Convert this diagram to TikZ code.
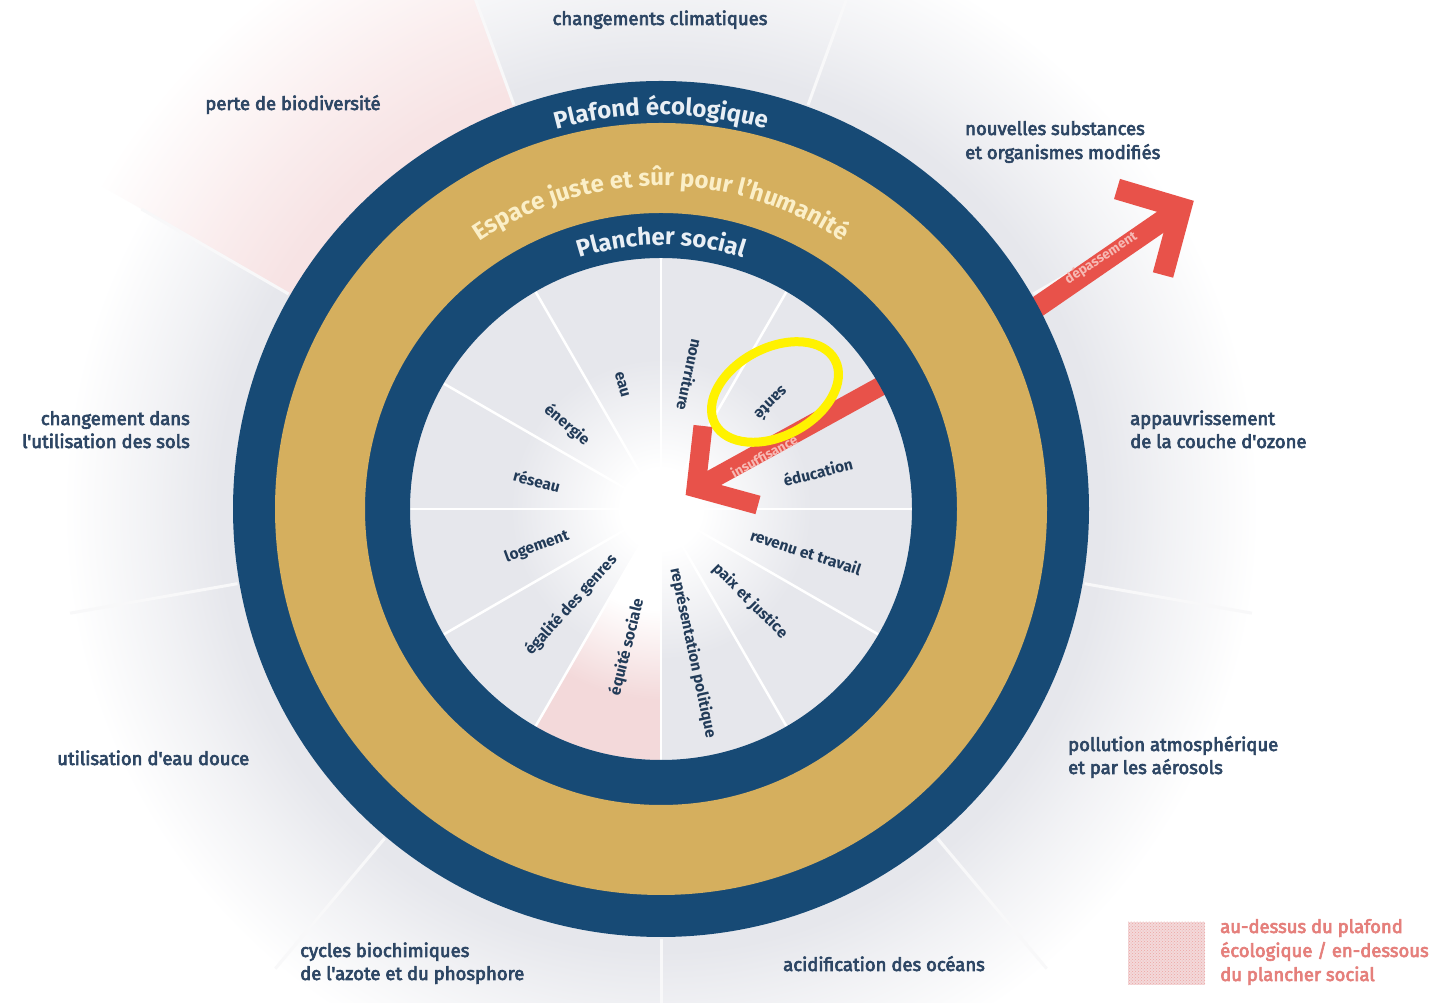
\documentclass[tikz,border=0pt]{standalone}
\usepackage{fontspec}
\setmainfont{Fira Sans}
\newfontfamily\medfont[FakeBold=3.5]{Fira Sans}
\usetikzlibrary{decorations.text,patterns}
\definecolor{navy}{HTML}{174A75}
\definecolor{gold}{HTML}{D5AF5E}
\definecolor{cream}{HTML}{FBEFC8}
\definecolor{ringtext}{HTML}{E9EFF5}
\definecolor{labelblue}{HTML}{2D4664}
\definecolor{innerblue}{HTML}{223B58}
\definecolor{bggray}{HTML}{E6E7EC}
\definecolor{arrowred}{HTML}{E8524A}
\definecolor{lightred}{HTML}{F6B9B4}
\definecolor{legendred}{HTML}{E57F7B}
\definecolor{pinkfill}{HTML}{F3D9DA}
\definecolor{pinklight}{HTML}{F7E3E4}
\pgfdeclareradialshading{outerfade}{\pgfpoint{0bp}{0bp}}{color(0bp)=(bggray); color(17bp)=(bggray); color(19.5bp)=(bggray!55!white); color(23bp)=(white); color(50bp)=(white)}
\pgfdeclareradialshading{innerglow}{\pgfpoint{0bp}{0bp}}{color(0bp)=(white); color(4bp)=(white); color(15bp)=(bggray); color(50bp)=(bggray)}
\pgfdeclareradialshading{pinkfade}{\pgfpoint{0bp}{0bp}}{color(0bp)=(pinklight); color(17bp)=(pinklight); color(20bp)=(pinklight!65!white); color(25bp)=(white); color(50bp)=(white)}
\pgfdeclareradialshading{innerpink}{\pgfpoint{0bp}{0bp}}{color(0bp)=(white); color(10bp)=(white); color(19bp)=(pinkfill); color(50bp)=(pinkfill)}
\begin{document}
\begin{tikzpicture}[x=1pt,y=1pt,
  lbl/.style={font=\medfont\fontsize{18.5}{21}\selectfont, text=labelblue, inner sep=0pt},
  inlbl/.style={font=\bfseries\fontsize{15.5}{17}\selectfont, text=innerblue, inner sep=0pt},
  leg/.style={font=\medfont\fontsize{18.5}{21}\selectfont, text=legendred, inner sep=0pt},
  arrlbl/.style={font=\bfseries\fontsize{13.5}{15}\selectfont, text=lightred, inner sep=0pt},
  spoke/.style={white, line width=3pt},
  redline/.style={arrowred, line join=miter, line cap=butt},
  ringlabel/.style={decorate, decoration={text along path, text align=center, text color=#1}}
]
\useasboundingbox (0,0) rectangle (1430,1003);
\fill[white] (0,0) rectangle (1430,1003);
\begin{scope}[shift={(661,494)}]
  % outer background
  \shade[shading=outerfade] (0,0) circle (650);
  \begin{scope}
    \clip (0,0) -- (110:720) arc[start angle=110, end angle=150, radius=720] -- cycle;
    \shade[shading=pinkfade] (0,0) circle (650);
  \end{scope}
  \foreach \a in {70,30,-10,-50,-90,-130,-170,150,110}
    \draw[spoke, white!70!bggray] (\a:430) -- (\a:600);
  % inner disk
  \shade[shading=innerglow] (0,0) circle (251);
  \begin{scope}
    \clip (0,0) -- (-90:260) arc[start angle=-90, end angle=-120, radius=260] -- cycle;
    \shade[shading=innerpink] (0,0) circle (251);
  \end{scope}
  \foreach \a in {0,30,...,330}
    \draw[spoke, line width=2.5pt] (\a:40) -- (\a:251);
  % inner labels
  \node[inlbl, rotate=-74]  (eau)   at (-39,124) {eau};
  \node[inlbl, rotate=-102] (nour)  at (29,134)  {nourriture};
  \node[inlbl, rotate=-136] (sante) at (111,105) {santé};
  \node[inlbl, rotate=14]   (educ)  at (157,37)  {éducation};
  \node[inlbl, rotate=-18]  (rev)   at (145,-43) {revenu et travail};
  \node[inlbl, rotate=-45]  (paix)  at (89,-92)  {paix et justice};
  \node[inlbl, rotate=-78]  (repr)  at (32,-144) {représentation politique};
  \node[inlbl, rotate=76]   (equi)  at (-34,-138) {équité sociale};
  \node[inlbl, rotate=48]   (egal)  at (-90,-96) {égalité des genres};
  \node[inlbl, rotate=20]   (loge)  at (-124,-38) {logement};
  \node[inlbl, rotate=-15]  (rese)  at (-124,28) {réseau};
  \node[inlbl, rotate=-40]  (ener)  at (-94,84)  {énergie};
  % insuffisance arrow
  \coordinate (iBase) at (240,134);
  \coordinate (iVert) at (35,21);
  \coordinate (iArmA) at (42,83);
  \coordinate (iArmB) at (97,4);
  \draw[redline, line width=19pt] (iBase) -- (iVert);
  \draw[redline, line width=19pt] (iArmA) -- (iVert) -- (iArmB);
  \node[arrlbl, rotate=29] (insuf) at (103,53) {insuffisance};
  % depassement arrow
  \coordinate (dBase) at (350,184);
  \coordinate (dVert) at (520,301);
  \coordinate (dArmA) at (456,320);
  \coordinate (dArmB) at (502,234);
  \draw[redline, line width=21pt] (dBase) -- (dVert);
  \draw[redline, line width=21pt] (dArmA) -- (dVert) -- (dArmB);
  \node[arrlbl, rotate=33] (depas) at (440,251) {dépassement};
  % rings
  \fill[navy, even odd rule] (0,0) circle (428) (0,0) circle (251);
  \fill[gold, even odd rule] (0,0) circle (386) (0,0) circle (296);
  \path[ringlabel=ringtext, decoration={text={|\bfseries\fontsize{24}{24}\selectfont|Plafond écologique}}]
    (150:394) arc[start angle=150, end angle=30, radius=394];
  \path[ringlabel=cream, decoration={text={|\bfseries\fontsize{24}{24}\selectfont|Espace juste et sûr pour l'humanité}}]
    (160:323) arc[start angle=160, end angle=20, radius=323];
  \path[ringlabel=ringtext, decoration={text={|\bfseries\fontsize{24}{24}\selectfont|Plancher social}}]
    (150:264) arc[start angle=150, end angle=30, radius=264];
  % highlight ellipse
  \draw[yellow, line width=9pt, rotate around={28:(114,117)}] (114,117) ellipse[x radius=68, y radius=44];
\end{scope}
% outer labels
\node[lbl, anchor=base] (clim) at (660,978) {changements climatiques};
\node[lbl, anchor=base] (bio) at (293,893) {perte de biodiversité};
\node[lbl, anchor=base west] (subA) at (965,868) {nouvelles substances};
\node[lbl, anchor=base west] (subB) at (965,844) {et organismes modifiés};
\node[lbl, anchor=base east] (solA) at (190,578) {changement dans};
\node[lbl, anchor=base east] (solB) at (190,555) {l'utilisation des sols};
\node[lbl, anchor=base west] (ozoA) at (1130,578) {appauvrissement};
\node[lbl, anchor=base west] (ozoB) at (1130,555) {de la couche d'ozone};
\node[lbl, anchor=base west] (eauD) at (57,238) {utilisation d'eau douce};
\node[lbl, anchor=base west] (aerA) at (1068,252) {pollution atmosphérique};
\node[lbl, anchor=base west] (aerB) at (1068,229) {et par les aérosols};
\node[lbl, anchor=base west] (azoA) at (300,46) {cycles biochimiques};
\node[lbl, anchor=base west] (azoB) at (300,23) {de l'azote et du phosphore};
\node[lbl, anchor=base west] (ocea) at (783,32) {acidification des océans};
% legend
\fill[pinkfill] (1128,18) rectangle (1205,81);
\fill[pattern=crosshatch dots, pattern color=legendred!70] (1128,18) rectangle (1205,81);
\node[leg, anchor=base west] (legA) at (1220,70) {au-dessus du plafond};
\node[leg, anchor=base west] (legB) at (1220,46) {écologique / en-dessous};
\node[leg, anchor=base west] (legC) at (1220,22) {du plancher social};
\end{tikzpicture}
\end{document}
